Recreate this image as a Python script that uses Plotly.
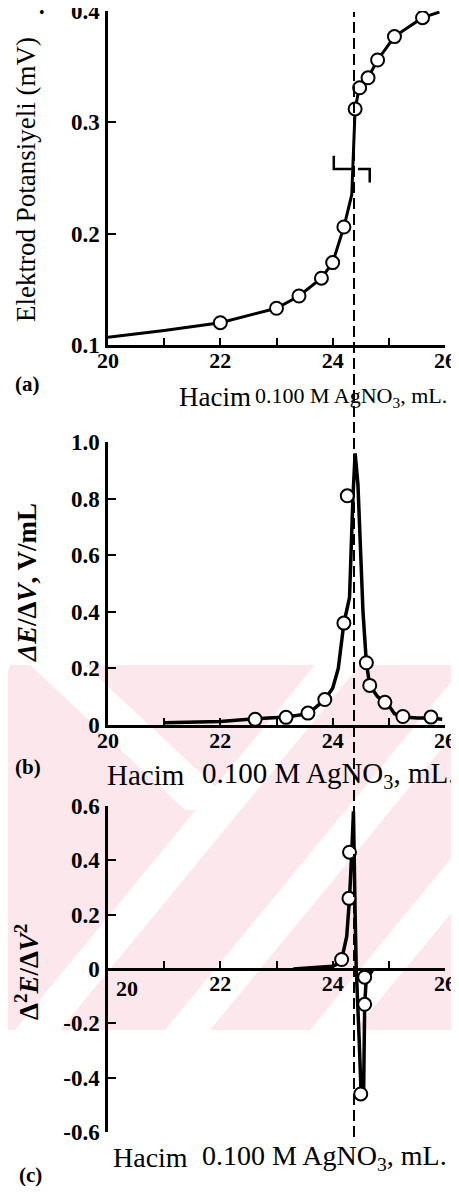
import plotly.graph_objects as go

# ---------------- data ----------------
# (a) potential curve
vol_a_line = [20.0, 21.0, 22.0, 23.0, 23.4, 23.8, 24.0, 24.2, 24.34, 24.40, 24.45, 24.5, 24.63, 24.8, 25.1, 25.6, 25.9]
E_a_line = [0.107, 0.113, 0.120, 0.133, 0.144, 0.160, 0.174, 0.206, 0.235, 0.312, 0.325, 0.331, 0.340, 0.356, 0.377, 0.394, 0.399]
vol_a_pts = [22.0, 23.0, 23.4, 23.8, 24.0, 24.2, 24.4, 24.48, 24.63, 24.8, 25.1, 25.6]
E_a_pts = [0.120, 0.133, 0.144, 0.160, 0.174, 0.206, 0.312, 0.331, 0.340, 0.356, 0.377, 0.394]
# inflection bracket marks (a)
brk_x = [24.02, 24.02, 24.34, None, 24.45, 24.66, 24.66]
brk_y = [0.270, 0.258, 0.258, None, 0.258, 0.258, 0.246]

# (b) first derivative
vol_b_line = [21.0, 22.0, 22.62, 23.18, 23.57, 23.86, 24.0, 24.1, 24.2, 24.3, 24.36, 24.4, 24.45, 24.54, 24.6, 24.66, 24.8, 24.96, 25.1, 25.28, 25.5, 25.73, 25.95]
dEdV_line = [0.008, 0.012, 0.022, 0.028, 0.04, 0.09, 0.13, 0.2, 0.36, 0.45, 0.8, 0.96, 0.85, 0.4, 0.22, 0.14, 0.1, 0.08, 0.04, 0.028, 0.025, 0.025, 0.02]
vol_b_pts = [22.62, 23.17, 23.56, 23.86, 24.2, 24.26, 24.6, 24.66, 24.93, 25.25, 25.75]
dEdV_pts = [0.02, 0.027, 0.042, 0.09, 0.36, 0.81, 0.22, 0.14, 0.08, 0.03, 0.028]

# (c) second derivative
vol_c_line = [23.3, 24.0, 24.1, 24.16, 24.25, 24.3, 24.34, 24.37, 24.40, 24.42, 24.47, 24.51, 24.55, 24.57, 24.6, 24.66, 24.72]
d2_line = [0.0, 0.01, 0.02, 0.035, 0.12, 0.26, 0.43, 0.58, 0.2, 0.0, -0.25, -0.48, -0.47, -0.13, -0.03, -0.02, 0.0]
vol_c_pts = [24.16, 24.29, 24.30, 24.57, 24.57, 24.5]
d2_pts = [0.035, 0.26, 0.43, -0.03, -0.13, -0.46]

endpoint_vol = 24.38

x_ticks = [20, 21, 22, 23, 24, 25, 26]
x_text = ["20", "", "22", "", "24", "", "26"]
x_text_c = ["", "", "22", "", "24", "", "26"]
ya_ticks = [0.1, 0.2, 0.3, 0.4]
ya_text = ["0.1", "0.2", "0.3", "0.4"]
yb_ticks = [0, 0.2, 0.4, 0.6, 0.8, 1.0]
yb_text = ["0", "0.2", "0.4", "0.6", "0.8", "1.0"]
yc_ticks = [-0.6, -0.4, -0.2, 0, 0.2, 0.4, 0.6]
yc_text = ["-0.6", "-0.4", "-0.2", "0", "0.2", "0.4", "0.6"]

# ---------------- layout helpers ----------------
PAGE_W, PAGE_H = 459, 1194
BODY = 8                      # default html body margin
W, H = PAGE_W - BODY, PAGE_H - BODY
LEFT, RIGHT, TOP, BOTTOM = 108, 445, 11, 1132   # plot box in page pixels
ML, MR, MT, MB = LEFT - BODY, PAGE_W - RIGHT, TOP - BODY, PAGE_H - BOTTOM
PH = BOTTOM - TOP - 0
PW = RIGHT - LEFT

def py(p):
    return (BOTTOM - p) / (H - MT - MB)

def px(p):
    return (p - LEFT) / (W - ML - MR)

FONT = "Liberation Serif"
BLACK = "black"

fig = go.Figure()

mk = dict(symbol="circle", size=13, color="white", line=dict(color=BLACK, width=2))

fig.add_trace(go.Scatter(x=vol_a_line, y=E_a_line, mode="lines", line=dict(color=BLACK, width=3), xaxis="x", yaxis="y"))
fig.add_trace(go.Scatter(x=brk_x, y=brk_y, mode="lines", line=dict(color=BLACK, width=2.5), xaxis="x", yaxis="y"))
fig.add_trace(go.Scatter(x=vol_a_pts, y=E_a_pts, mode="markers", marker=mk, xaxis="x", yaxis="y"))

fig.add_trace(go.Scatter(x=vol_b_line, y=dEdV_line, mode="lines", line=dict(color=BLACK, width=3.5), xaxis="x2", yaxis="y2"))
fig.add_trace(go.Scatter(x=vol_b_pts, y=dEdV_pts, mode="markers", marker=mk, xaxis="x2", yaxis="y2"))

fig.add_trace(go.Scatter(x=vol_c_line, y=d2_line, mode="lines", line=dict(color=BLACK, width=3.5), xaxis="x3", yaxis="y3"))
fig.add_trace(go.Scatter(x=vol_c_pts, y=d2_pts, mode="markers", marker=mk, xaxis="x3", yaxis="y3"))

def tf(size):
    return dict(family=FONT, size=size, color=BLACK, weight="bold")

def xax(anchor, text, **kw):
    d = dict(range=[20, 26], domain=[0, 1], anchor=anchor, showline=True, linecolor=BLACK, linewidth=2.5,
             ticks="inside", ticklen=7, tickwidth=2, tickcolor=BLACK, tickmode="array",
             tickvals=x_ticks, ticktext=text, automargin=False, ticklabeloverflow="allow",
             showgrid=False, zeroline=False, tickfont=tf(22), ticklabelstandoff=-6)
    d.update(kw)
    return d

def yax(anchor, rng, dom, tv, tt, **kw):
    d = dict(range=rng, domain=dom, anchor=anchor, showline=True, linecolor=BLACK, linewidth=2.5,
             ticks="inside", ticklen=8, tickwidth=2, tickcolor=BLACK, tickmode="array",
             tickvals=tv, ticktext=tt, automargin=False, ticklabeloverflow="allow",
             showgrid=False, zeroline=False, tickfont=tf(23), ticklabelstandoff=1)
    d.update(kw)
    return d

dom_a = [py(345), py(11)]
dom_b = [py(725), py(442)]
dom_c = [py(1132), py(806)]

fig.update_layout(
    width=W, height=H,
    margin=dict(l=ML, r=MR, t=MT, b=MB, autoexpand=False),
    paper_bgcolor="white", plot_bgcolor="rgba(0,0,0,0)",
    font=dict(family=FONT, size=22, color=BLACK),
    showlegend=False,
    xaxis=xax("y", x_text),
    yaxis=yax("x", [0.1, 0.4], dom_a, ya_ticks, ya_text),
    xaxis2=xax("y2", x_text),
    yaxis2=yax("x2", [0, 1.0], dom_b, yb_ticks, yb_text),
    xaxis3=xax("free", x_text_c, position=(dom_c[0] + dom_c[1]) / 2),
    yaxis3=yax("x3", [-0.6, 0.6], dom_c, yc_ticks, yc_text),
)

shapes = []
# watermark band
shapes.append(dict(type="rect", xref="paper", yref="paper", x0=px(0), x1=px(PAGE_W), y0=py(1030), y1=py(665),
                   fillcolor="rgb(252,232,236)", line=dict(width=0), layer="below"))

def poly(pts):
    s = "M " + " L ".join("{:.4f},{:.4f}".format(px(a), py(b)) for a, b in pts) + " Z"
    return dict(type="path", xref="paper", yref="paper", path=s,
                fillcolor="white", line=dict(width=0), layer="below")

# "/" stripes
for x0 in [15, 165, 310, 455]:
    shapes.append(poly([(x0, 1030), (x0 + 45, 1030), (x0 + 45 + 300, 665), (x0 + 300, 665)]))
# "\" stripe top-left
shapes.append(poly([(30, 665), (85, 665), (240, 810), (185, 810)]))
shapes.append(poly([(0, 700), (0, 665), (10, 665)]))

# vertical dashed endpoint line
shapes.append(dict(type="line", xref="x", yref="paper", x0=endpoint_vol, x1=endpoint_vol,
                   y0=py(1137), y1=py(12), line=dict(color=BLACK, width=2, dash="11px,5px")))
fig.update_layout(shapes=shapes)

ann = []
def label(text, xp, yp, size, **kw):
    d = dict(text=text, xref="paper", yref="paper", x=px(xp), y=py(yp), showarrow=False,
             font=dict(family=FONT, size=size, color=BLACK), xanchor="center", yanchor="middle")
    d.update(kw)
    ann.append(d)

label("Elektrod Potansiyeli (mV)", 26, 180, 27, textangle=-90)
label("<b><i>ΔE</i>/Δ<i>V</i>, V/mL</b>", 27, 583, 27, textangle=-90)
label("<b>Δ<sup>2</sup><i>E</i>/Δ<i>V</i><sup>2</sup></b>", 27, 972, 27, textangle=-90)

label("<b>(a)</b>", 27, 384, 21)
label("<b>(b)</b>", 28, 767, 21)
label("<b>(c)</b>", 30, 1175, 21)

label("Hacim", 215, 397, 27)
label("0.100 M AgNO<sub>3</sub>, mL.", 351, 397, 22)
label("Hacim", 146, 775, 29)
label("0.100 M AgNO<sub>3</sub>, mL.", 328, 775, 29)
label("Hacim", 150, 1158, 28)
label("0.100 M AgNO<sub>3</sub>, mL.", 324, 1158, 28)

label("<b>20</b>", 127, 988, 22)
label("•", 42, 13, 16)

fig.update_layout(annotations=ann)

fig.write_html("out.html")
